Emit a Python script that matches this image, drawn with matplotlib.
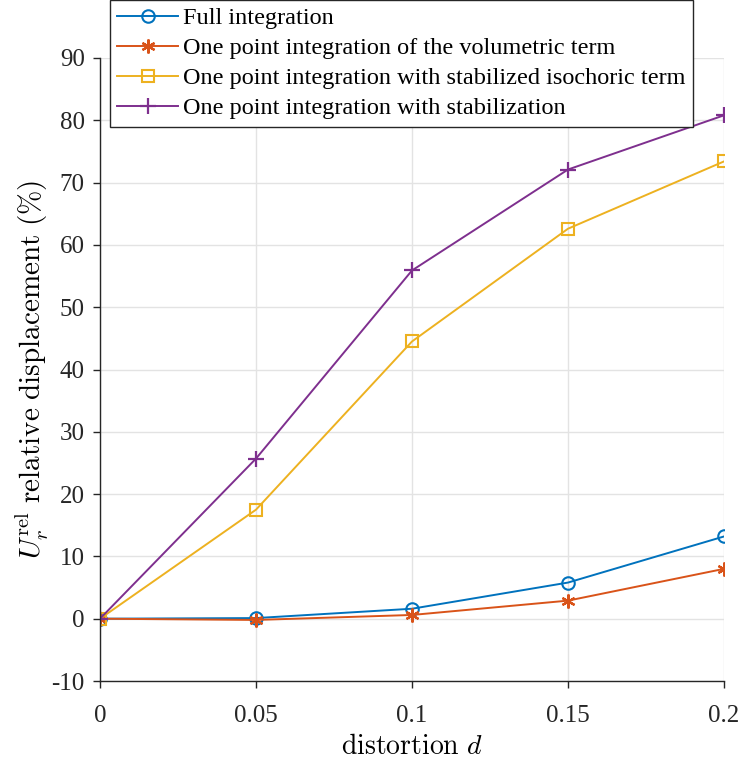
import matplotlib.pyplot as plt

plt.rcParams['font.family'] = ['Liberation Serif', 'DejaVu Serif']
plt.rcParams['mathtext.fontset'] = 'cm'
plt.rcParams['axes.unicode_minus'] = False

# data
distortion = [0, 0.05, 0.1, 0.15, 0.2]
full_int = [0, 0.1, 1.6, 5.8, 13.2]
one_point_vol = [0, -0.2, 0.6, 2.9, 8.0]
one_point_iso = [0, 17.5, 44.5, 62.6, 73.4]
one_point_stab = [0, 25.7, 55.9, 72.1, 80.8]

labels = ["Full integration",
          "One point integration of the volumetric term",
          "One point integration with stabilized isochoric term",
          "One point integration with stabilization"]
colors = ["#0072BD", "#D95319", "#EDB120", "#7E2F8E"]

fig = plt.figure(figsize=(7.42, 7.63), dpi=100)
ax = fig.add_axes([100/742, 1 - 681/763, 624/742, 623/763])

ax.plot(distortion, full_int, color=colors[0], lw=1.4, marker='o',
        markersize=9, markerfacecolor='none', markeredgewidth=1.5, label=labels[0])
ax.plot(distortion, one_point_vol, color=colors[1], lw=1.4, marker=(6, 2, 0),
        markersize=10, markeredgewidth=1.6, label=labels[1])
ax.plot(distortion, one_point_iso, color=colors[2], lw=1.4, marker='s',
        markersize=8, markerfacecolor='none', markeredgewidth=1.5, label=labels[2])
ax.plot(distortion, one_point_stab, color=colors[3], lw=1.4, marker='+',
        markersize=11, markeredgewidth=1.6, label=labels[3])

ax.set_xlim(0, 0.2)
ax.set_ylim(-10, 90)
ax.set_xticks([0, 0.05, 0.1, 0.15, 0.2])
ax.set_xticklabels(["0", "0.05", "0.1", "0.15", "0.2"])
ax.set_yticks(range(-10, 91, 10))
ax.grid(True, color='#e3e3e3', lw=1.0)
ax.set_axisbelow(True)

for s in ['top', 'right']:
    ax.spines[s].set_visible(False)
for s in ['left', 'bottom']:
    ax.spines[s].set_color('#262626')
    ax.spines[s].set_linewidth(1.0)
ax.tick_params(direction='out', length=5, width=1.0, colors='#262626',
               labelsize=18, pad=6)
ax.tick_params(axis='x', pad=12)

ax.set_xlabel(r'$\mathrm{distortion}\ d$', fontsize=20, labelpad=6)
ax.set_ylabel(r'$U_r^{\mathrm{rel}}\ \mathrm{relative\ displacement\ (\%)}$',
              fontsize=21, labelpad=0)

leg = ax.legend(loc='upper left', bbox_to_anchor=(110/742, 1.0),
                bbox_transform=fig.transFigure, borderaxespad=0,
                fontsize=17.5, frameon=True, fancybox=False, framealpha=1,
                edgecolor='#262626', handlelength=2.5, handletextpad=0.2,
                labelspacing=0.33, borderpad=0.3)
leg.get_frame().set_linewidth(1.0)

fig.savefig("out.png", dpi=100)
